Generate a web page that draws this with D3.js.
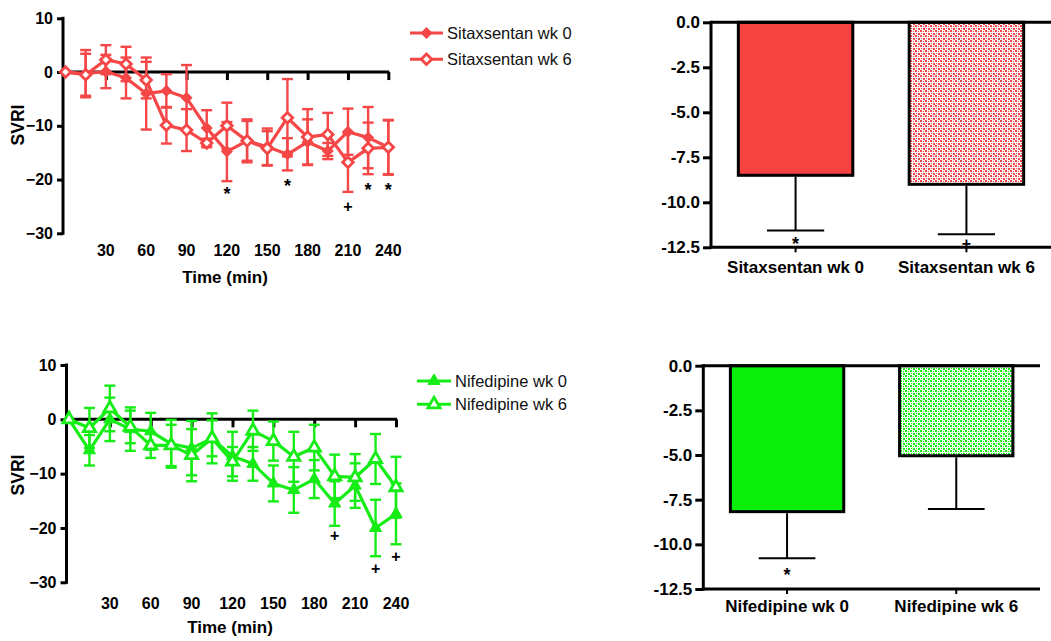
<!DOCTYPE html>
<html>
<head>
<meta charset="utf-8">
<script src="https://cdn.jsdelivr.net/npm/d3@7"></script>
<style>
  body { margin: 0; background: #fff; }
  svg text { font-family: "Liberation Sans", Arial, sans-serif; }
</style>
</head>
<body>
<div id="chart"></div>
<script>
// time points (min)
var times = [0, 15, 30, 45, 60, 75, 90, 105, 120, 135, 150, 165, 180, 195, 210, 225, 240];
var xTicks = [30, 60, 90, 120, 150, 180, 210, 240];
var yTicks = [10, 0, -10, -20, -30];

// sitaxsentan, % change in SVRI (mean, sem)
var sitaxWk0    = [0, -0.3, 0.1, -1.1, -4.0, -3.5, -4.8, -10.4, -14.8, -12.8, -13.9, -15.3, -13.0, -14.7, -11.1, -12.2, -14.0];
var sitaxWk0Sem = [0, 4.4, 3.1, 3.8, 6.7, 3.1, 6.1, 3.3, 5.5, 3.7, 3.4, 3.0, 4.2, 1.5, 4.3, 5.7, 5.1];
var sitaxWk6    = [0, -0.5, 2.3, 1.5, -1.5, -9.9, -10.8, -13.2, -10.0, -12.8, -14.2, -8.5, -12.1, -11.6, -16.8, -14.2, -14.0];
var sitaxWk6Sem = [0, 3.9, 2.7, 3.2, 3.4, 3.4, 3.9, 0.8, 4.3, 4.0, 3.2, 7.2, 5.2, 4.0, 5.5, 4.8, 5.0];
var sitaxMarks  = [[120, "*", -23.5], [165, "*", -22.0], [210, "+", -26.1], [225, "*", -22.6], [240, "*", -22.6]];

// nifedipine
var nifeWk0    = [0, -5.7, 0, -1.8, -2.2, -4.5, -5.3, -3.5, -6.8, -8.2, -11.8, -13.0, -11.0, -15.5, -12.2, -20.0, -17.4];
var nifeWk0Sem = [0, 2.8, 4.0, 4.0, 3.4, 4.4, 5.0, 4.6, 4.5, 3.1, 3.3, 4.2, 3.5, 4.1, 4.1, 5.2, 5.6];
var nifeWk6    = [0, -1.6, 2.0, -1.4, -4.8, -4.8, -6.6, -3.5, -7.8, -2.1, -4.0, -6.9, -5.2, -10.5, -10.7, -7.3, -12.5];
var nifeWk6Sem = [0, 3.7, 4.2, 3.0, 2.3, 3.8, 4.8, 3.3, 2.7, 3.7, 3.6, 4.6, 4.2, 4.0, 4.3, 4.6, 5.6];
var nifeMarks  = [[195, "+", -22.4], [225, "+", -28.5], [240, "+", -26.3]];

// bar charts: overall mean change
var sitaxBarLabels = ["Sitaxsentan wk 0", "Sitaxsentan wk 6"];
var sitaxBarMeans  = [-8.5, -9.0];
var sitaxBarSem    = [3.07, 2.77];
var sitaxBarMarks  = ["*", "+"];
var sitaxBarMarkY  = [-12.55, -12.57];

var nifeBarLabels = ["Nifedipine wk 0", "Nifedipine wk 6"];
var nifeBarMeans  = [-8.17, -5.04];
var nifeBarSem    = [2.61, 2.98];
var nifeBarMarks  = ["*", ""];
var nifeBarMarkY  = [-11.95, 0];

var barTicks = [0, -2.5, -5, -7.5, -10, -12.5];

var red = "#f54747";
var green = "#16ec16";

var svg = d3.select("#chart").append("svg")
    .attr("width", 1051)
    .attr("height", 641);

// fill patterns for the wk 6 bars
var defs = svg.append("defs");
function makePattern(id, color) {
    var p = defs.append("pattern")
        .attr("id", id)
        .attr("patternUnits", "userSpaceOnUse")
        .attr("width", 5).attr("height", 5);
    p.append("rect").attr("width", 5).attr("height", 5).attr("fill", "#fff");
    var cells = [[0, 0, 2, 2], [3, 1, 1, 1], [1, 3, 1, 1], [3, 3, 2, 2]];
    cells.forEach(function (c) {
        p.append("rect").attr("x", c[0]).attr("y", c[1])
            .attr("width", c[2]).attr("height", c[3]).attr("fill", color);
    });
}
makePattern("redDots", red);
makePattern("greenDots", green);

function markerPath(shape) {
    if (shape == "diamond") return d3.symbol(d3.symbolSquare, 56)();
    return d3.symbol(d3.symbolTriangle, 64)();
}

function drawMarker(g, cx, cy, shape, filled, color) {
    g.append("path")
        .attr("d", markerPath(shape))
        .attr("transform", "translate(" + cx + "," + cy + ")" + (shape == "diamond" ? " rotate(45)" : ""))
        .attr("fill", filled ? color : "#fff")
        .attr("stroke", color)
        .attr("stroke-width", filled ? 1 : 2.8);
}

function lineChart(o) {
    var g = svg.append("g");
    var x = d3.scaleLinear().domain([0, 240]).range([o.axisX + 2.5, o.right]);
    var y = d3.scaleLinear().domain([-30, 10]).range([o.bottom, o.top]);

    // y axis
    var ya = g.append("g")
        .attr("transform", "translate(" + o.axisX + ",0)")
        .call(d3.axisLeft(y).tickValues(yTicks).tickSize(6).tickPadding(4).tickSizeOuter(0));
    ya.select(".domain").remove();
    ya.selectAll("line").attr("stroke", "#000").attr("stroke-width", 3);
    ya.selectAll("text").attr("font-size", 16).attr("font-weight", "bold").attr("fill", "#000");
    g.append("line")
        .attr("x1", o.axisX).attr("x2", o.axisX)
        .attr("y1", y(10) - 1.5).attr("y2", y(-30) + 1.5)
        .attr("stroke", "#000").attr("stroke-width", 3);

    // x axis crosses at 0, labels along the bottom
    var xa = g.append("g")
        .attr("transform", "translate(0," + y(0) + ")")
        .call(d3.axisBottom(x).tickValues(xTicks).tickSize(8).tickFormat(""));
    xa.select(".domain").remove();
    xa.selectAll("line").attr("stroke", "#000").attr("stroke-width", 3);
    g.append("line")
        .attr("x1", o.axisX).attr("x2", x(240) + 1)
        .attr("y1", y(0)).attr("y2", y(0))
        .attr("stroke", "#000").attr("stroke-width", 3);

    g.selectAll(".xlab").data(xTicks).enter().append("text")
        .attr("x", function (d) { return x(d); })
        .attr("y", o.labelY)
        .attr("text-anchor", "middle")
        .attr("font-size", 16).attr("font-weight", "bold")
        .text(function (d) { return d; });

    g.append("text")
        .attr("x", o.titleX).attr("y", o.titleY)
        .attr("text-anchor", "middle")
        .attr("font-size", 17).attr("font-weight", "bold")
        .text("Time (min)");

    g.append("text")
        .attr("transform", "translate(" + o.svriX + "," + o.svriY + ") rotate(-90)")
        .attr("text-anchor", "middle")
        .attr("font-size", 17.5).attr("font-weight", "bold")
        .text("SVRI");

    // significance marks
    g.selectAll(".sig").data(o.marks).enter().append("text")
        .attr("x", function (d) { return x(d[0]); })
        .attr("y", function (d) { return y(d[2]) + (d[1] == "*" ? 2 : 0); })
        .attr("text-anchor", "middle")
        .attr("font-size", function (d) { return d[1] == "*" ? 18 : 16; })
        .attr("font-weight", "bold")
        .text(function (d) { return d[1]; });

    var line = d3.line()
        .x(function (d, i) { return x(times[i]); })
        .y(function (d) { return y(d); });

    o.series.forEach(function (s) {
        // error bars
        s.values.forEach(function (v, i) {
            if (s.sem[i] == 0) return;
            var cx = x(times[i]);
            g.append("line")
                .attr("x1", cx).attr("x2", cx)
                .attr("y1", y(v + s.sem[i])).attr("y2", y(v - s.sem[i]))
                .attr("stroke", o.color).attr("stroke-width", 2.4);
            [v + s.sem[i], v - s.sem[i]].forEach(function (e) {
                g.append("line")
                    .attr("x1", cx - 5.5).attr("x2", cx + 5.5)
                    .attr("y1", y(e)).attr("y2", y(e))
                    .attr("stroke", o.color).attr("stroke-width", 2.4);
            });
        });
    });
    o.series.forEach(function (s) {
        g.append("path")
            .datum(s.values)
            .attr("d", line)
            .attr("fill", "none")
            .attr("stroke", o.color)
            .attr("stroke-width", 3.2)
            .attr("stroke-linejoin", "round");
    });
    o.series.forEach(function (s) {
        s.values.forEach(function (v, i) {
            drawMarker(g, x(times[i]), y(v), o.shape, s.filled, o.color);
        });
    });

    // legend
    o.series.forEach(function (s, i) {
        var ly = o.legendY + i * o.legendStep;
        g.append("line")
            .attr("x1", o.legendX).attr("x2", o.legendX + o.legendLen)
            .attr("y1", ly).attr("y2", ly)
            .attr("stroke", o.color).attr("stroke-width", 3);
        drawMarker(g, o.legendX + o.legendLen / 2, ly, o.shape, s.filled, o.color);
        g.append("text")
            .attr("x", o.legendX + o.legendLen + 4)
            .attr("y", ly + 6)
            .attr("font-size", 16.5)
            .attr("fill", "#111")
            .text(s.name);
    });
}

function barChart(o) {
    var g = svg.append("g");
    var y = d3.scaleLinear().domain([0, -12.5]).range([o.top, o.bottom]);
    var x = d3.scaleBand().domain(o.labels).range([o.axisX, o.right])
        .paddingInner(0.33).paddingOuter(0.16);

    // bars
    g.selectAll(".bar").data(o.means).enter().append("rect")
        .attr("x", function (d, i) { return x(o.labels[i]); })
        .attr("y", y(0))
        .attr("width", x.bandwidth())
        .attr("height", function (d) { return y(d) - y(0); })
        .attr("fill", function (d, i) { return i == 0 ? o.color : "url(#" + o.pattern + ")"; })
        .attr("stroke", "#000")
        .attr("stroke-width", 3);

    // downward error bars
    o.means.forEach(function (m, i) {
        var cx = x(o.labels[i]) + x.bandwidth() / 2;
        g.append("line")
            .attr("x1", cx).attr("x2", cx)
            .attr("y1", y(m) + 1.5).attr("y2", y(m - o.sem[i]))
            .attr("stroke", "#000").attr("stroke-width", 2);
        g.append("line")
            .attr("x1", cx - x.bandwidth() / 4).attr("x2", cx + x.bandwidth() / 4)
            .attr("y1", y(m - o.sem[i])).attr("y2", y(m - o.sem[i]))
            .attr("stroke", "#000").attr("stroke-width", 2);
        if (o.marks[i]) {
            g.append("text")
                .attr("x", cx).attr("y", y(o.markY[i]) + (o.marks[i] == "*" ? 2 : 0))
                .attr("text-anchor", "middle")
                .attr("font-size", o.marks[i] == "*" ? 18 : 16)
                .attr("font-weight", "bold")
                .text(o.marks[i]);
        }
    });

    // y axis
    var ya = g.append("g")
        .attr("transform", "translate(" + o.axisX + ",0)")
        .call(d3.axisLeft(y).tickValues(barTicks).tickSize(8).tickPadding(3)
            .tickFormat(d3.format(".1f")));
    ya.select(".domain").remove();
    ya.selectAll("line").attr("stroke", "#000").attr("stroke-width", 3);
    ya.selectAll("text").attr("font-size", 17).attr("font-weight", "bold").attr("fill", "#000")
        .text(function (d) { return d3.format(".1f")(d).replace("−", "-"); });
    g.append("line")
        .attr("x1", o.axisX).attr("x2", o.axisX)
        .attr("y1", y(0) - 1.5).attr("y2", y(-12.5) + 1.5)
        .attr("stroke", "#000").attr("stroke-width", 3);

    // top zero line and bottom axis
    [0, -12.5].forEach(function (v) {
        g.append("line")
            .attr("x1", o.axisX).attr("x2", o.lineEnd)
            .attr("y1", y(v)).attr("y2", y(v))
            .attr("stroke", "#000").attr("stroke-width", 3);
    });
    g.selectAll(".btick").data(o.labels).enter().append("line")
        .attr("x1", function (d) { return x(d) + x.bandwidth() / 2; })
        .attr("x2", function (d) { return x(d) + x.bandwidth() / 2; })
        .attr("y1", y(-12.5)).attr("y2", y(-12.5) + 5)
        .attr("stroke", "#000").attr("stroke-width", 2);

    g.selectAll(".blab").data(o.labels).enter().append("text")
        .attr("x", function (d) { return x(d) + x.bandwidth() / 2; })
        .attr("y", o.labelY)
        .attr("text-anchor", "middle")
        .attr("font-size", 17).attr("font-weight", "bold")
        .text(function (d) { return d; });
}

lineChart({
    axisX: 63, right: 388.3, top: 18.3, bottom: 233.3,
    labelY: 256, titleX: 225, titleY: 283, svriX: 24, svriY: 125,
    color: red, shape: "diamond",
    series: [
        {name: "Sitaxsentan wk 0", values: sitaxWk0, sem: sitaxWk0Sem, filled: true},
        {name: "Sitaxsentan wk 6", values: sitaxWk6, sem: sitaxWk6Sem, filled: false}
    ],
    marks: sitaxMarks,
    legendX: 410, legendLen: 33, legendY: 33, legendStep: 26.3
});

lineChart({
    axisX: 66.5, right: 396, top: 365, bottom: 582.3,
    labelY: 609, titleX: 230, titleY: 633, svriX: 24, svriY: 475,
    color: green, shape: "triangle",
    series: [
        {name: "Nifedipine wk 0", values: nifeWk0, sem: nifeWk0Sem, filled: true},
        {name: "Nifedipine wk 6", values: nifeWk6, sem: nifeWk6Sem, filled: false}
    ],
    marks: nifeMarks,
    legendX: 417, legendLen: 34, legendY: 381, legendStep: 23.3
});

barChart({
    axisX: 711, right: 1051, lineEnd: 1051, top: 22.3, bottom: 247.3, labelY: 273,
    labels: sitaxBarLabels, means: sitaxBarMeans, sem: sitaxBarSem,
    marks: sitaxBarMarks, markY: sitaxBarMarkY,
    color: "#f84343", pattern: "redDots"
});

barChart({
    axisX: 703.3, right: 1040, lineEnd: 1040, top: 365.7, bottom: 589, labelY: 612,
    labels: nifeBarLabels, means: nifeBarMeans, sem: nifeBarSem,
    marks: nifeBarMarks, markY: nifeBarMarkY,
    color: "#0af00a", pattern: "greenDots"
});
</script>
</body>
</html>
